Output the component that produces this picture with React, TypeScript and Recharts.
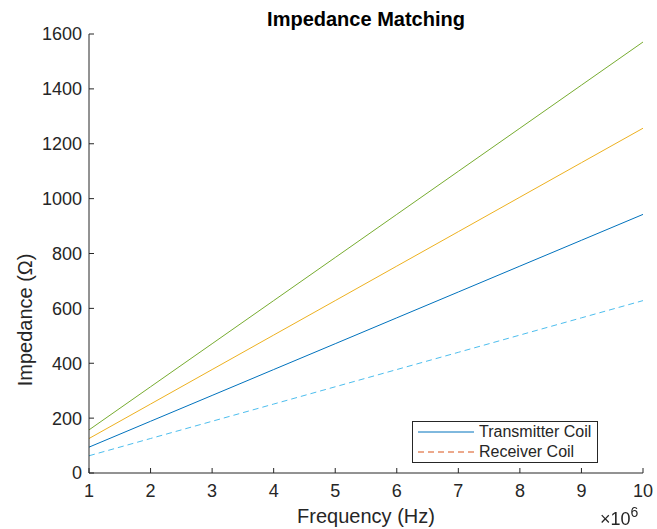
import { LineChart, Line, XAxis, YAxis, Legend } from 'recharts'

const freq = [1, 2, 3, 4, 5, 6, 7, 8, 9, 10]
const transmitter = [94.2, 188.5, 282.7, 377.0, 471.2, 565.5, 659.7, 754.0, 848.2, 942.5]
const receiver = [62.8, 125.7, 188.5, 251.3, 314.2, 377.0, 439.8, 502.7, 565.5, 628.3]
const coil3 = [125.7, 251.3, 377.0, 502.7, 628.3, 754.0, 879.6, 1005.3, 1131.0, 1256.6]
const coil4 = [157.1, 314.2, 471.2, 628.3, 785.4, 942.5, 1099.6, 1256.6, 1413.7, 1570.8]
const xTicks = [1, 2, 3, 4, 5, 6, 7, 8, 9, 10]
const yTicks = [0, 200, 400, 600, 800, 1000, 1200, 1400, 1600]
const legendItems = [
  { label: 'Transmitter Coil', color: '#0072BD', dash: undefined },
  { label: 'Receiver Coil', color: '#D95319', dash: '6 4' },
]

const font = '"Liberation Sans", Arial, sans-serif'
const axisColor = '#262626'

const data = freq.map((f, i) => ({
  f,
  tx: transmitter[i],
  rx: receiver[i],
  c3: coil3[i],
  c4: coil4[i],
}))

function LegendBox() {
  return (
    <div style={{ width: 184, height: 40, border: `1px solid ${axisColor}`, background: '#fff', fontFamily: font, fontSize: 16, color: axisColor, boxSizing: 'content-box' }}>
      {legendItems.map(it => (
        <div key={it.label} style={{ display: 'flex', alignItems: 'center', height: 20, whiteSpace: 'nowrap' }}>
          <svg width={66} height={20} style={{ flex: 'none' }}>
            <line x1={5} x2={61} y1={10} y2={10} stroke={it.color} strokeWidth={1} strokeDasharray={it.dash} />
          </svg>
          <span>{it.label}</span>
        </div>
      ))}
    </div>
  )
}

export default function App() {
  const tickStyle = { fontSize: 18, fill: axisColor, fontFamily: font }
  return (
    <div style={{ position: 'fixed', left: 0, top: 0, width: 657, height: 529, background: '#fff', fontFamily: font }}>
      <div style={{ position: 'absolute', left: 89, width: 554, top: 7, textAlign: 'center', fontWeight: 'bold', fontSize: 20, lineHeight: '24px', color: '#000' }}>
        Impedance Matching
      </div>
      <LineChart width={657} height={529} data={data} margin={{ top: 34, right: 14, bottom: 26, left: 29 }}>
        <XAxis
          xAxisId="b"
          dataKey="f"
          type="number"
          domain={[1, 10]}
          ticks={xTicks}
          tick={tickStyle}
          tickSize={-5}
          tickMargin={16}
          stroke={axisColor}
          height={30}
          label={{ value: 'Frequency (Hz)', position: 'bottom', offset: 6, fontSize: 20, fill: axisColor, fontFamily: font }}
        />
        <XAxis xAxisId="t" orientation="top" dataKey="f" type="number" domain={[1, 10]} ticks={xTicks} tick={false} tickSize={-5} stroke={axisColor} height={0} />
        <YAxis
          yAxisId="l"
          type="number"
          domain={[0, 1600]}
          ticks={yTicks}
          tick={tickStyle}
          tickSize={-5}
          tickMargin={12}
          stroke={axisColor}
          width={60}
          label={{ value: 'Impedance (Ω)', angle: -90, position: 'left', offset: 4, fontSize: 20, fill: axisColor, fontFamily: font }}
        />
        <YAxis yAxisId="r" orientation="right" type="number" domain={[0, 1600]} ticks={yTicks} tick={false} tickSize={-5} stroke={axisColor} width={0} />
        <Line xAxisId="b" yAxisId="l" dataKey="tx" stroke="#0072BD" strokeWidth={1} dot={false} isAnimationActive={false} />
        <Line xAxisId="b" yAxisId="l" dataKey="rx" stroke="#4DBEEE" strokeWidth={1} strokeDasharray="6 4" dot={false} isAnimationActive={false} />
        <Line xAxisId="b" yAxisId="l" dataKey="c3" stroke="#EDB120" strokeWidth={1} dot={false} isAnimationActive={false} />
        <Line xAxisId="b" yAxisId="l" dataKey="c4" stroke="#77AC30" strokeWidth={1} dot={false} isAnimationActive={false} />
        <Legend
          layout="horizontal"
          verticalAlign="middle"
          align="center"
          content={() => <LegendBox />}
          wrapperStyle={{ left: 412, top: 421, width: 186, height: 42 }}
        />
      </LineChart>
      <div style={{ position: 'absolute', left: 600, top: 508, fontSize: 18, lineHeight: '22px', color: axisColor, whiteSpace: 'nowrap' }}>
        ×10<span style={{ fontSize: 14, position: 'relative', top: -8 }}>6</span>
      </div>
    </div>
  )
}
